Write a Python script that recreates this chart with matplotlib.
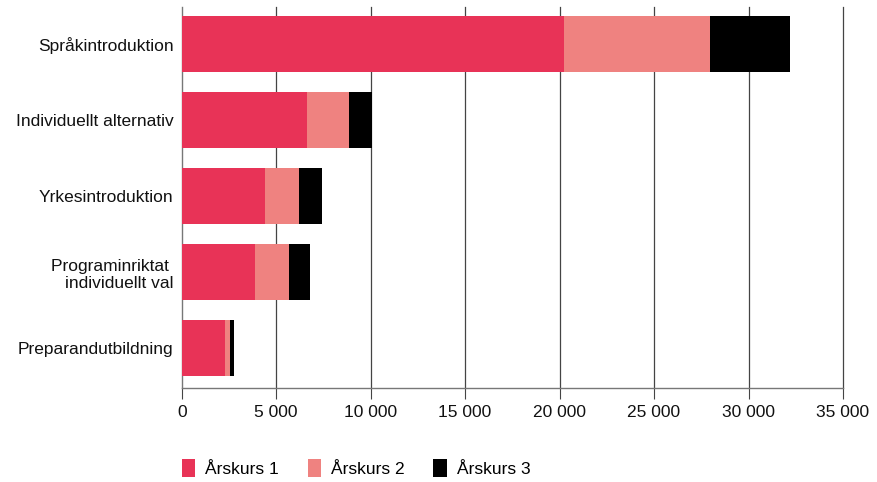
import matplotlib
matplotlib.use("Agg")
import matplotlib.pyplot as plt
from matplotlib.patches import Patch
from matplotlib.ticker import FuncFormatter
import numpy as np

categories = ["Språkintroduktion", "Individuellt alternativ", "Yrkesintroduktion",
              "Programinriktat \nindividuellt val", "Preparandutbildning"]
arskurs1 = [20230, 6650, 4400, 3870, 2290]
arskurs2 = [7740, 2180, 1795, 1795, 265]
arskurs3 = [4225, 1250, 1215, 1110, 210]
series_names = ["Årskurs 1", "Årskurs 2", "Årskurs 3"]
colors = ["#E83357", "#EF8280", "#000000"]
xticks = [0, 5000, 10000, 15000, 20000, 25000, 30000, 35000]

plt.rcParams['font.family'] = ['Liberation Sans', 'DejaVu Sans']
fs = 12.5

fig = plt.figure(figsize=(8.77, 4.82), dpi=100)
ax = fig.add_axes([181.7/877, 1-388/482, (843-181.7)/877, (388-7)/482])

y = np.arange(len(categories))
left = np.zeros(len(categories))
for vals, c, name in zip([arskurs1, arskurs2, arskurs3], colors, series_names):
    ax.barh(y, vals, left=left, height=0.74, color=c, label=name, zorder=3)
    left = left + np.array(vals)

ax.set_ylim(len(categories) - 1 + 0.526, -0.487)
ax.set_xlim(0, 35000)
ax.set_yticks(y)
ax.set_yticklabels(categories, fontsize=fs, color="#111111")
ax.set_xticks(xticks)
ax.xaxis.set_major_formatter(FuncFormatter(lambda v, p: f"{int(v):,}".replace(",", " ")))
ax.tick_params(axis='x', labelsize=fs, length=8, width=0.8, color="#444444", labelcolor="#111111", pad=4)
ax.tick_params(axis='y', length=0, pad=6)
for xt in xticks[1:]:
    ax.axvline(xt, color="#444444", linewidth=0.9, zorder=0, clip_on=False)
for s in ["top", "right"]:
    ax.spines[s].set_visible(False)
ax.spines["left"].set_color("#777777")
ax.spines["bottom"].set_color("#777777")
ax.spines["left"].set_linewidth(1.0)
ax.spines["bottom"].set_linewidth(1.0)

handles = [Patch(facecolor=c, edgecolor='none') for c in colors]
fig.legend(handles, series_names, loc='center left', bbox_to_anchor=(175/877, 1-468/482),
           ncol=3, frameon=False, fontsize=fs, handlelength=0.75, handleheight=1.2,
           handletextpad=0.6, columnspacing=1.65, borderaxespad=0)

fig.savefig("out.png", dpi=100)
